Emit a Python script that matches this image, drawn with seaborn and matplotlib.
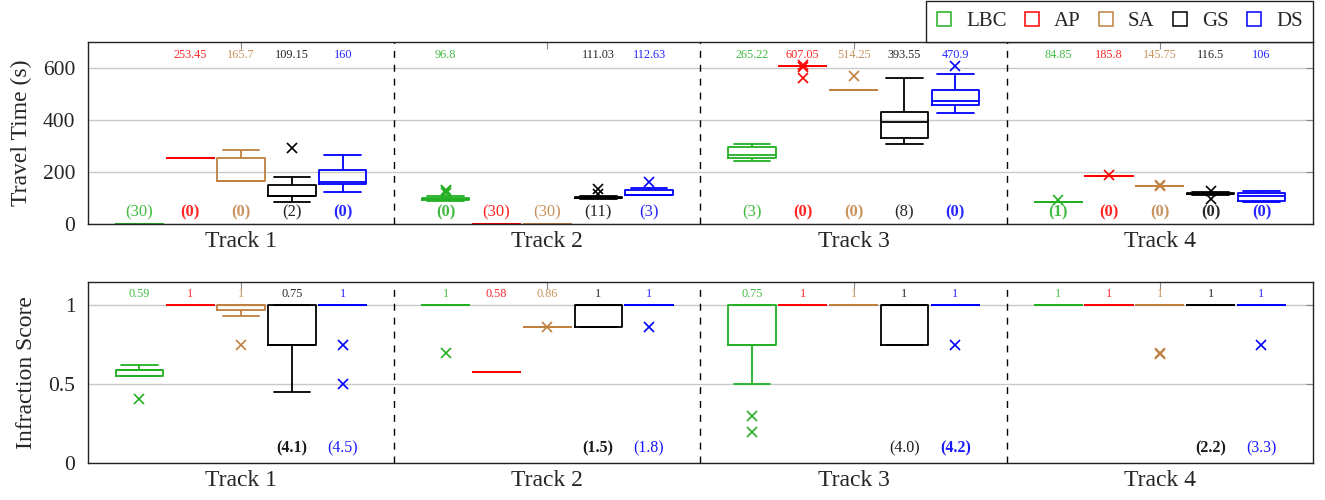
import numpy as np
import pandas as pd
import matplotlib
matplotlib.use("Agg")
import matplotlib.pyplot as plt
import seaborn as sns
from matplotlib.lines import Line2D

# ---------------- data ----------------
tracks = ["Track 1", "Track 2", "Track 3", "Track 4"]
methods = ["LBC", "AP", "SA", "GS", "DS"]
colors = ["#22b022", "#ff0000", "#bf8040", "#000000", "#0000ff"]

# Travel time box summaries [track][method] = (low whisker, q1, median, q3, high whisker)
tt_box = [
    [(0, 0, 0, 0, 0), (253.45, 253.45, 253.45, 253.45, 253.45), (165.7, 165.7, 165.7, 253, 285),
     (84, 106, 109.15, 150, 182), (123, 152, 160, 206, 266)],
    [(90, 93, 96.8, 99, 108), (0, 0, 0, 0, 0), (0, 0, 0, 0, 0),
     (96, 98, 101, 104, 108), (110, 110, 112.63, 129, 137)],
    [(242, 252, 265.22, 294, 306), (607.05, 607.05, 607.05, 607.05, 607.05),
     (514.25, 514.25, 514.25, 514.25, 514.25), (308, 331, 393.55, 429, 562), (425, 458, 470.9, 514, 577)],
    [(84.85, 84.85, 84.85, 84.85, 84.85), (185.8, 185.8, 185.8, 185.8, 185.8),
     (145.75, 145.75, 145.75, 145.75, 145.75), (112, 115, 116.5, 119, 122), (84, 88, 106, 118, 126)],
]
tt_outliers = [
    [[], [], [], [290], []],
    [[118, 125, 132], [], [], [115, 133], [160]],
    [[], [602, 612, 562], [567], [], [608]],
    [[91], [188], [144, 148], [95, 128], []],
]
tt_median_labels = [
    ["", "253.45", "165.7", "109.15", "160"],
    ["96.8", "", "", "111.03", "112.63"],
    ["265.22", "607.05", "514.25", "393.55", "470.9"],
    ["84.85", "185.8", "145.75", "116.5", "106"],
]
tt_fail_labels = [
    ["(30)", "(0)", "(0)", "(2)", "(0)"],
    ["(0)", "(30)", "(30)", "(11)", "(3)"],
    ["(3)", "(0)", "(0)", "(8)", "(0)"],
    ["(1)", "(0)", "(0)", "(0)", "(0)"],
]
tt_fail_bold = [
    [0, 1, 1, 0, 1],
    [1, 0, 0, 0, 0],
    [0, 1, 1, 0, 1],
    [1, 1, 1, 1, 1],
]

# Infraction score box summaries
inf_box = [
    [(0.55, 0.55, 0.59, 0.59, 0.62), (1, 1, 1, 1, 1), (0.93, 0.97, 1, 1, 1),
     (0.45, 0.75, 0.75, 1, 1), (1, 1, 1, 1, 1)],
    [(1, 1, 1, 1, 1), (0.58, 0.58, 0.58, 0.58, 0.58), (0.86, 0.86, 0.86, 0.86, 0.86),
     (0.86, 0.86, 1, 1, 1), (1, 1, 1, 1, 1)],
    [(0.5, 0.75, 0.75, 1, 1), (1, 1, 1, 1, 1), (1, 1, 1, 1, 1),
     (0.75, 0.75, 1, 1, 1), (1, 1, 1, 1, 1)],
    [(1, 1, 1, 1, 1), (1, 1, 1, 1, 1), (1, 1, 1, 1, 1), (1, 1, 1, 1, 1), (1, 1, 1, 1, 1)],
]
inf_outliers = [
    [[0.41], [], [0.75], [], [0.75, 0.5]],
    [[0.70], [], [0.865], [], [0.86]],
    [[0.30, 0.20], [], [], [], [0.75]],
    [[], [], [0.69, 0.70], [], [0.75]],
]
inf_median_labels = [
    ["0.59", "1", "1", "0.75", "1"],
    ["1", "0.58", "0.86", "1", "1"],
    ["0.75", "1", "1", "1", "1"],
    ["1", "1", "1", "1", "1"],
]
inf_score_methods = ["GS", "DS"]
inf_score_labels = [["(4.1)", "(4.5)"], ["(1.5)", "(1.8)"], ["(4.0)", "(4.2)"], ["(2.2)", "(3.3)"]]
inf_score_bold = [[1, 0], [1, 0], [0, 1], [1, 0]]


def build_frame(boxes, outliers):
    rows = []
    for ti, t in enumerate(tracks):
        for mi, m in enumerate(methods):
            lo, q1, med, q3, hi = boxes[ti][mi]
            vals = [lo] * 20 + [q1] * 20 + [med] * 20 + [q3] * 20 + [hi] * 20 + list(outliers[ti][mi])
            rows += [(t, m, v) for v in vals]
    return pd.DataFrame(rows, columns=["Track", "Method", "value"])


df_tt = build_frame(tt_box, tt_outliers)
df_inf = build_frame(inf_box, inf_outliers)

# ---------------- style ----------------
sns.set_style("white")
plt.rcParams["font.family"] = ["Liberation Serif", "DejaVu Serif"]

W = 0.83
fig = plt.figure(figsize=(13.25, 5.0), dpi=100)
ax1 = fig.add_axes([0.0664, 0.552, 0.9245, 0.3646])
ax2 = fig.add_axes([0.0664, 0.0734, 0.9245, 0.3632])

box_kws = dict(x="Track", y="value", hue="Method", order=tracks, hue_order=methods,
               palette=colors, fill=False, width=W, gap=0.07, whis=1.5, linewidth=1.3,
               flierprops=dict(marker="x", markersize=7, markeredgewidth=1.2),
               capwidths=0.12, legend=False)

sns.boxplot(data=df_tt, ax=ax1, **box_kws)
sns.boxplot(data=df_inf, ax=ax2, **box_kws)

offsets = [(j - (len(methods) - 1) / 2) * W / len(methods) for j in range(len(methods))]

for ax in (ax1, ax2):
    ax.set_xlim(-0.5, len(tracks) - 0.5)
    ax.set_xlabel("")
    ax.yaxis.grid(True, color="#c8c8c8", lw=1)
    ax.xaxis.grid(False)
    ax.set_axisbelow(True)
    for s in ax.spines.values():
        s.set_color("#222222")
        s.set_linewidth(1)
    ax.tick_params(axis="both", direction="in", top=True, right=True, length=5,
                   color="#888888")
    ax.tick_params(axis="y", labelsize=15.5, pad=9)
    ax.tick_params(axis="x", labelsize=17, pad=5)
    for i in range(len(tracks) - 1):
        ax.axvline(i + 0.5, color="black", lw=1, ls=(0, (5, 5)), zorder=1)

ax1.set_ylim(0, 700)
ax1.set_yticks([0, 200, 400, 600])
ax1.set_ylabel("Travel Time (s)", fontsize=17, labelpad=8)
ax2.set_ylim(0, 1.15)
ax2.set_yticks([0, 0.5, 1])
ax2.set_yticklabels(["0", "0.5", "1"])
ax2.set_ylabel("Infraction Score", fontsize=17, labelpad=8)

for ti in range(len(tracks)):
    for mi in range(len(methods)):
        x = ti + offsets[mi]
        c = colors[mi]
        ax1.text(x, 649, tt_median_labels[ti][mi], color=c, alpha=0.85, fontsize=8.8,
                 ha="center", va="center")
        ax1.text(x, 43, tt_fail_labels[ti][mi], color=c, alpha=0.85, fontsize=12,
                 fontweight="bold" if tt_fail_bold[ti][mi] else "normal",
                 ha="center", va="center")
        ax2.text(x, 1.075, inf_median_labels[ti][mi], color=c, alpha=0.85, fontsize=8.8,
                 ha="center", va="center")
    for k, m in enumerate(inf_score_methods):
        mi = methods.index(m)
        ax2.text(ti + offsets[mi], 0.095, inf_score_labels[ti][k], color=colors[mi], alpha=0.9,
                 fontsize=11.5, fontweight="bold" if inf_score_bold[ti][k] else "normal",
                 ha="center", va="center")

handles = [Line2D([], [], marker="s", linestyle="none", markerfacecolor="none",
                  markeredgecolor=c, markersize=10, markeredgewidth=1.1) for c in colors]
leg = ax1.legend(handles, methods, loc="lower right", bbox_to_anchor=(1.0, 1.0),
                 borderaxespad=0, ncol=len(methods), fontsize=15, frameon=True,
                 fancybox=False, edgecolor="#222222", framealpha=1,
                 handletextpad=0.72, columnspacing=0.85, handlelength=0.7,
                 borderpad=0.5)
leg.get_frame().set_linewidth(1)

fig.savefig("out.png", dpi=100)
